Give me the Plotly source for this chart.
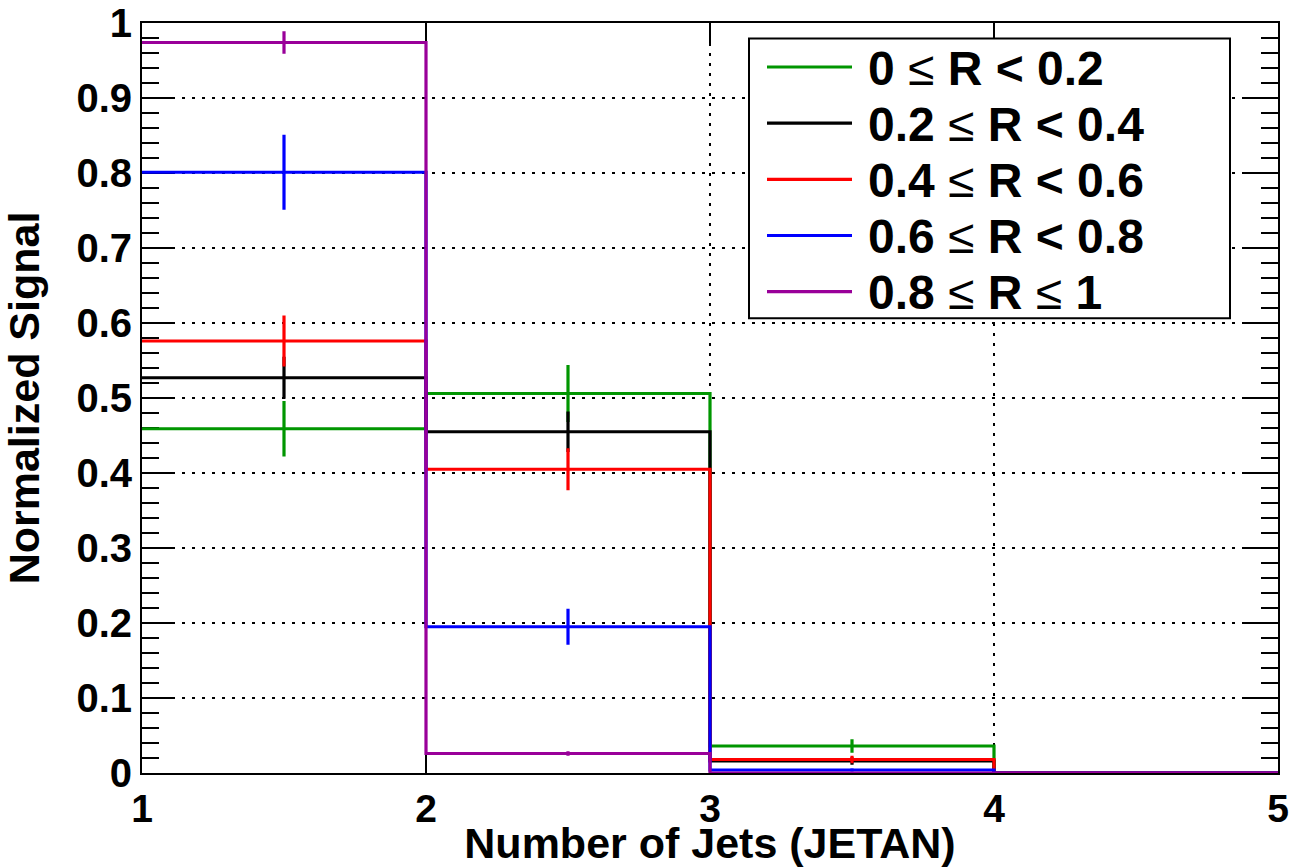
import plotly.graph_objects as go

# Bin edges / centres for the jet multiplicity histogram
bin_edges = [1, 2, 3, 4, 5]
bin_centers = [1.5, 2.5, 3.5, 4.5]

# Normalized signal per bin for each R range, with statistical errors
sig_r0 = [0.459, 0.506, 0.036, 0.0]
err_r0 = [0.037, 0.038, 0.009, 0.0]
sig_r1 = [0.527, 0.455, 0.016, 0.0]
err_r1 = [0.028, 0.027, 0.005, 0.0]
sig_r2 = [0.576, 0.405, 0.018, 0.0]
err_r2 = [0.034, 0.028, 0.005, 0.0]
sig_r3 = [0.801, 0.195, 0.004, 0.0]
err_r3 = [0.050, 0.024, 0.002, 0.0]
sig_r4 = [0.974, 0.026, 0.0, 0.0]
err_r4 = [0.015, 0.003, 0.0, 0.0]

LEQ = "<span style='font-weight:normal'>\u2264</span>"
labels = ["0 " + LEQ + " R &lt; 0.2", "0.2 " + LEQ + " R &lt; 0.4",
          "0.4 " + LEQ + " R &lt; 0.6", "0.6 " + LEQ + " R &lt; 0.8",
          "0.8 " + LEQ + " R " + LEQ + " 1"]
colors = ["#009600", "#000000", "#ff0000", "#0000ff", "#990099"]
values = [sig_r0, sig_r1, sig_r2, sig_r3, sig_r4]
errors = [err_r0, err_r1, err_r2, err_r3, err_r4]

y_ticks = [0, 0.1, 0.2, 0.3, 0.4, 0.5, 0.6, 0.7, 0.8, 0.9, 1]
x_ticks = [1, 2, 3, 4, 5]

FONT = "Liberation Sans, Arial, Helvetica, sans-serif"

fig = go.Figure()
for name, col, vals, errs in zip(labels, colors, values, errors):
    # step outline of the histogram
    fig.add_trace(go.Scatter(
        x=bin_edges, y=vals + [vals[-1]], mode="lines", name=name,
        line=dict(color=col, width=3.2, shape="hv"), showlegend=False,
        hoverinfo="skip"))
    # vertical error bars at bin centres (only filled bins)
    cx = [c for c, v in zip(bin_centers, vals) if v > 0]
    cy = [v for v in vals if v > 0]
    ce = [e for e, v in zip(errs, vals) if v > 0]
    fig.add_trace(go.Scatter(
        x=cx, y=cy, mode="markers", marker=dict(size=0.1, color=col),
        error_y=dict(type="data", array=ce, visible=True, color=col,
                     thickness=3.2, width=0),
        showlegend=False, hoverinfo="skip"))

# Legend panel (pixel geometry converted to plot-area fractions)
L, T, PW, PH = 142.0, 772.7, 1136.0, 750.0


def px_x(p):
    return (p - L) / PW


def px_y(p):
    return (T - p) / PH


shapes = [dict(type="rect", xref="paper", yref="paper",
               x0=px_x(749), x1=px_x(1230), y0=px_y(318), y1=px_y(38.3),
               fillcolor="white", line=dict(color="black", width=2),
               layer="above")]
annotations = []
row_y = [66.7, 122.8, 179.0, 235.2, 291.3]
for name, col, ry in zip(labels, colors, row_y):
    shapes.append(dict(type="line", xref="paper", yref="paper",
                       x0=px_x(767), x1=px_x(852), y0=px_y(ry), y1=px_y(ry),
                       line=dict(color=col, width=3.2), layer="above"))
    annotations.append(dict(xref="paper", yref="paper", x=px_x(866),
                            y=px_y(ry + 1), text=name, showarrow=False,
                            xanchor="left", yanchor="middle",
                            font=dict(family=FONT, size=48, color="black",
                                      weight="bold")))

axis_common = dict(
    showline=True, linecolor="black", linewidth=2, mirror="allticks",
    ticks="inside", tickcolor="black", tickwidth=2,
    showgrid=True, gridcolor="black", gridwidth=1.5, griddash="3px,7px",
    zeroline=False, layer="below traces", automargin=False,
)

fig.update_layout(
    width=1292, height=867,
    margin=dict(l=142, r=14, t=23, b=94, autoexpand=False),
    paper_bgcolor="white", plot_bgcolor="white",
    font=dict(family=FONT, color="black"),
    shapes=shapes, annotations=annotations,
    xaxis=dict(range=[1, 5], tickvals=x_ticks, ticklen=20,
               tickfont=dict(family=FONT, size=39, color="black",
                             weight="bold"),
               title=dict(text="Number of Jets (JETAN)", standoff=10,
                          font=dict(family=FONT, size=43, color="black",
                                    weight="bold")),
               **axis_common),
    yaxis=dict(range=[0, 1], tickvals=y_ticks, ticklen=33,
               tickfont=dict(family=FONT, size=40, color="black",
                             weight="bold"),
               minor=dict(dtick=0.02, ticks="inside", ticklen=17,
                          tickcolor="black", tickwidth=2, showgrid=False),
               title=dict(text="Normalized Signal", standoff=34,
                          font=dict(family=FONT, size=43, color="black",
                                    weight="bold")),
               **axis_common),
)

fig.write_html("out.html")
